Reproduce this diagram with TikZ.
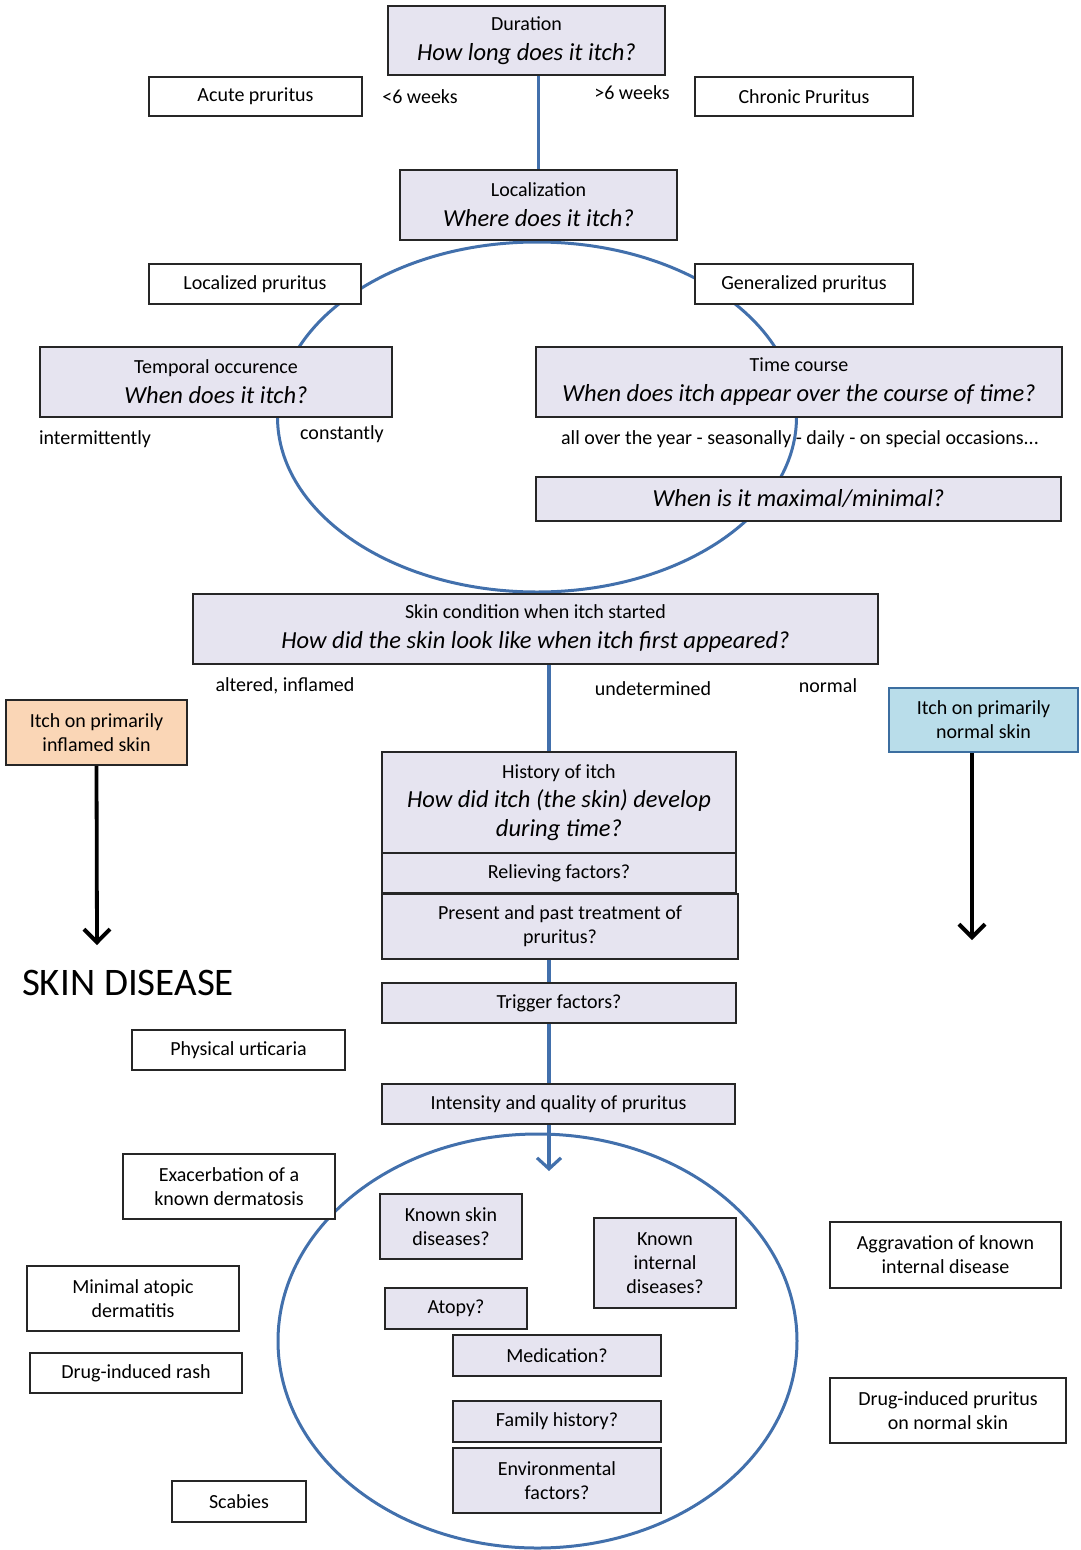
\documentclass[tikz,border=0pt]{standalone}
\usepackage{fontspec}
\setmainfont{Carlito}
\usetikzlibrary{positioning,arrows.meta,backgrounds}
\definecolor{askfill}{RGB}{230,228,240}
\definecolor{inflfill}{RGB}{250,214,182}
\definecolor{normfill}{RGB}{185,221,234}
\definecolor{normdraw}{RGB}{60,110,160}
\definecolor{flowblue}{RGB}{66,112,172}
\newcommand{\nsz}{\fontsize{20}{24}\selectfont}
\newcommand{\isz}{\fontsize{24.5}{29}\selectfont\itshape}

\begin{document}
\begin{tikzpicture}
[
    x=1pt,y=-1pt,
    mybox/.style={rectangle,draw=black!85,line width=1.8pt,align=center,inner sep=0pt,font=\nsz},
    ask/.style={mybox,fill=askfill},
    answer/.style={mybox,fill=white},
    inflamed/.style={mybox,fill=inflfill},
    normalskin/.style={mybox,fill=normfill,draw=normdraw},
    lbl/.style={inner sep=0pt,font=\nsz},
    bline/.style={draw=flowblue,line width=3.2pt},
    ring/.style={draw=flowblue,line width=3pt},
    karrow/.style={draw=black,line width=3.8pt,-{Straight Barb[length=13pt,width=26pt,line width=4pt]}}
]
\useasboundingbox (0,0) rectangle (1080,1550);

% Dauer und Lokalisation
\node (dur) at (526.5,40.5) [ask,minimum width=277pt,minimum height=69pt] {Duration\\[6pt]{\isz How long does it itch?}};
\node (acute) at (255.5,96.5) [answer,minimum width=213pt,minimum height=39pt] {Acute pruritus};
\node (chronic) at (804,96.5) [answer,minimum width=218pt,minimum height=39pt] {Chronic Pruritus};
\node (lt6) at (420,97) [lbl] {<6 weeks};
\node (gt6) at (632,93) [lbl] {>6 weeks};
\node (loc) at (538.5,205) [ask,minimum width=277pt,minimum height=70pt] {Localization\\[6pt]{\isz Where does it itch?}};
\node (localized) at (255,284) [answer,minimum width=212pt,minimum height=40pt] {Localized pruritus};
\node (general) at (804,284) [answer,minimum width=218pt,minimum height=40pt] {Generalized pruritus};

% zeitlicher Verlauf
\node (temporal) at (216,382) [ask,minimum width=352pt,minimum height=70pt] {Temporal occurence\\[6pt]{\isz When does it itch?}};
\node (intermit) at (95,439) [lbl] {intermittently};
\node (const) at (342,434) [lbl] {constantly};
\node (course) at (799,382) [ask,minimum width=526pt,minimum height=70pt] {Time course\\[6pt]{\isz When does itch appear over the course of time?}};
\node (seasons) at (800,439) [lbl] {all over the year - seasonally - daily - on special occasions...};
\node (maxmin) at (798.5,499) [ask,minimum width=525pt,minimum height=44pt] {\isz When is it maximal/minimal?};

% Hautzustand
\node (skin) at (535.5,629) [ask,minimum width=685pt,minimum height=70pt] {Skin condition when itch started\\[6pt]{\isz How did the skin look like when itch first appeared?}};
\node (altered) at (285,686) [lbl] {altered, inflamed};
\node (undet) at (653,689) [lbl] {undetermined};
\node (normal) at (828,686) [lbl] {normal};
\node (inflbox) at (96.5,732.5) [inflamed,minimum width=181pt,minimum height=65pt] {Itch on primarily\\inflamed skin};
\node (normbox) at (983.5,720) [normalskin,minimum width=189pt,minimum height=64pt] {Itch on primarily\\normal skin};
\coordinate (inflend) at (97,945);
\coordinate (normend) at (972,940);
\node (skindis) at (128,983) [lbl,font=\fontsize{39}{44}\selectfont] {SKIN DISEASE};

% Anamnese
\node (hist) at (559,802.5) [ask,minimum width=354pt,minimum height=101pt] {History of itch\\[5pt]{\isz How did itch (the skin) develop}\\[5pt]{\isz during time?}};
\node (reliev) at (559,873) [ask,minimum width=354pt,minimum height=40pt] {Relieving factors?};
\node (treat) at (560,926.5) [ask,minimum width=356pt,minimum height=65pt] {Present and past treatment of\\pruritus?};
\node (trigger) at (559,1003) [ask,minimum width=354pt,minimum height=40pt] {Trigger factors?};
\node (physurt) at (238.5,1050) [answer,minimum width=213pt,minimum height=40pt] {Physical urticaria};
\node (intens) at (558.5,1104) [ask,minimum width=353pt,minimum height=40pt] {Intensity and quality of pruritus};
\coordinate (spinetip) at (549,1171);

% Vorgeschichte
\node (exacerb) at (229,1186.5) [answer,minimum width=212pt,minimum height=65pt] {Exacerbation of a\\known dermatosis};
\node (knownskin) at (451,1226.5) [ask,minimum width=142pt,minimum height=65pt] {Known skin\\diseases?};
\node (knownint) at (665,1263) [ask,minimum width=142pt,minimum height=90pt] {Known\\internal\\diseases?};
\node (atopy) at (456,1308.5) [ask,minimum width=142pt,minimum height=41pt] {Atopy?};
\node (medic) at (557,1355.5) [ask,minimum width=208pt,minimum height=41pt] {Medication?};
\node (family) at (557,1421.5) [ask,minimum width=208pt,minimum height=41pt] {Family history?};
\node (environ) at (557,1480.5) [ask,minimum width=208pt,minimum height=65pt] {Environmental\\factors?};
\node (aggrav) at (945.5,1255) [answer,minimum width=231pt,minimum height=66pt] {Aggravation of known\\internal disease};
\node (minatop) at (133,1298.5) [answer,minimum width=212pt,minimum height=65pt] {Minimal atopic\\dermatitis};
\node (drugrash) at (136,1373) [answer,minimum width=212pt,minimum height=40pt] {Drug-induced rash};
\node (drugprur) at (948,1410.5) [answer,minimum width=236pt,minimum height=65pt] {Drug-induced pruritus\\on normal skin};
\node (scabies) at (239,1501.5) [answer,minimum width=134pt,minimum height=41pt] {Scabies};

\draw[bline] (loc.north) -- (loc.north |- dur.south);
\draw[karrow] (inflbox.south) -- (inflend);
\draw[karrow] (normend |- normbox.south) -- (normend);

\begin{scope}[on background layer]
\draw[ring] (537,417) ellipse [x radius=259.5pt,y radius=175pt];
\draw[ring] (537.5,1341) ellipse [x radius=259.5pt,y radius=207pt];
\draw[bline,-{Straight Barb[length=11pt,width=24pt,line width=3.2pt]}] (spinetip |- skin.south) -- (spinetip);
\end{scope}
\end{tikzpicture}
\end{document}
